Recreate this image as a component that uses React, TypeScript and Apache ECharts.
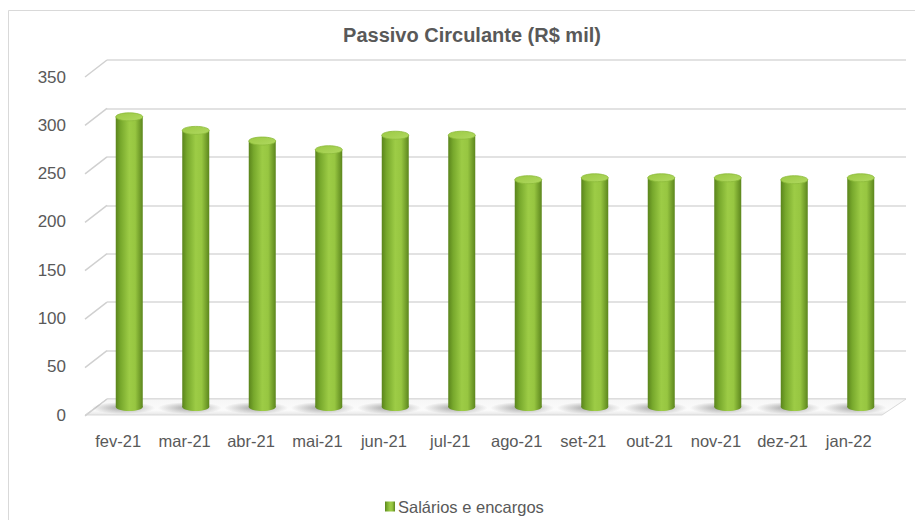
import React, { useEffect, useRef } from "react";
import * as echarts from "echarts";

const categories = ["fev-21", "mar-21", "abr-21", "mai-21", "jun-21", "jul-21", "ago-21", "set-21", "out-21", "nov-21", "dez-21", "jan-22"];
const salarios = [300, 286, 275, 266, 281, 281, 235, 237, 237, 237, 235, 237];
const yTicks = [0, 50, 100, 150, 200, 250, 300, 350];
const seriesName = "Salários e encargos";
const titleText = "Passivo Circulante (R$ mil)";

const FONT = "'Liberation Sans', Arial, sans-serif";
const TXT = "#595959";
const DX = -22;
const DY = 16;

function bodyGradient() {
  return new echarts.graphic.LinearGradient(0, 0, 1, 0, [
    { offset: 0, color: "#5a841c" },
    { offset: 0.18, color: "#77a82c" },
    { offset: 0.5, color: "#9dcc46" },
    { offset: 0.72, color: "#97c641" },
    { offset: 1, color: "#5c861d" },
  ]);
}

export default function App() {
  const ref = useRef<HTMLDivElement>(null);
  useEffect(() => {
    document.body.style.margin = "0";
    const chart = echarts.init(ref.current!, null, { renderer: "svg" });
    const hiddenAxis = {
      show: true,
      axisLine: { show: false },
      axisTick: { show: false },
      axisLabel: { show: false },
      splitLine: { show: false },
    };
    const option: any = {
      animation: false,
      backgroundColor: "#ffffff",
      title: {
        text: titleText,
        left: 467,
        textAlign: "center",
        top: 20,
        textStyle: { fontFamily: FONT, fontSize: 20, fontWeight: "bold", color: TXT },
      },
      legend: {
        data: [{ name: seriesName, icon: "rect" }],
        left: 380,
        bottom: 0,
        itemWidth: 10,
        itemHeight: 10,
        itemGap: 4,
        textStyle: { fontFamily: FONT, fontSize: 16.5, color: TXT, padding: [0, 0, 0, -2] },
      },
      graphic: [
        {
          type: "rect",
          shape: { x: 8.5, y: 10.5, width: 940, height: 540 },
          style: { fill: "none", stroke: "#d9d9d9", lineWidth: 1 },
          silent: true,
        },
      ],
      grid: [
        { left: 107, right: 9, top: 60, bottom: 121 },
        { left: 85, right: 33, top: 77, bottom: 105 },
        { left: 96, right: 21, top: 68.5, bottom: 113 },
      ],
      xAxis: [
        { type: "category", gridIndex: 0, data: categories, ...hiddenAxis },
        {
          type: "category",
          gridIndex: 1,
          data: categories,
          axisLine: { show: false },
          axisTick: { show: false },
          splitLine: { show: false },
          axisLabel: { fontFamily: FONT, fontSize: 16.5, color: TXT, margin: 17, interval: 0 },
        },
        { type: "category", gridIndex: 2, data: categories, ...hiddenAxis },
      ],
      yAxis: [
        {
          type: "value",
          gridIndex: 0,
          min: 0,
          max: 350,
          interval: 50,
          axisLine: { show: false },
          axisTick: { show: false },
          axisLabel: { show: false },
          splitLine: { show: true, lineStyle: { color: "#d9d9d9", width: 1.5 } },
        },
        {
          type: "value",
          gridIndex: 1,
          min: 0,
          max: 350,
          interval: 50,
          axisLine: { show: false },
          axisTick: { show: false },
          splitLine: { show: false },
          axisLabel: { fontFamily: FONT, fontSize: 17, color: TXT, margin: 19 },
        },
        { type: "value", gridIndex: 2, min: 0, max: 350, interval: 50, ...hiddenAxis },
      ],
      series: [
        {
          type: "custom",
          name: "floor",
          xAxisIndex: 0,
          yAxisIndex: 0,
          z: 1,
          silent: true,
          data: [[0, 0]],
          renderItem: (params: any, api: any) => {
            const cs = params.coordSys;
            const y0 = api.coord([0, 0])[1];
            const x0 = cs.x;
            const x1 = cs.x + cs.width;
            return {
              type: "polygon",
              shape: {
                points: [
                  [x0, y0],
                  [x1, y0],
                  [x1 - 24, y0 + DY],
                  [x0 + DX, y0 + DY],
                ],
              },
              style: {
                fill: new echarts.graphic.LinearGradient(0, 0, 0, 1, [
                  { offset: 0, color: "#f6f6f6" },
                  { offset: 0.7, color: "#fbfbfb" },
                  { offset: 1, color: "#e6e6e6" },
                ]),
                stroke: "#d9d9d9",
                lineWidth: 1,
              },
            };
          },
        },
        {
          type: "custom",
          name: "diagonals",
          xAxisIndex: 0,
          yAxisIndex: 0,
          z: 1,
          silent: true,
          data: yTicks.map((v) => [0, v]),
          renderItem: (params: any, api: any) => {
            const cs = params.coordSys;
            const y = api.coord([0, api.value(1)])[1];
            return {
              type: "line",
              shape: { x1: cs.x, y1: y, x2: cs.x + DX, y2: y + DY + 1 },
              style: { stroke: "#d0d0d0", lineWidth: 1.5 },
            };
          },
        },
        {
          type: "custom",
          name: "shadows",
          xAxisIndex: 2,
          yAxisIndex: 2,
          z: 2,
          silent: true,
          data: salarios.map((v, i) => [i, v]),
          renderItem: (params: any, api: any) => {
            const base = api.coord([api.value(0), 0]);
            return {
              type: "ellipse",
              shape: { cx: base[0] - 6, cy: base[1] + 1, rx: 32, ry: 6 },
              style: {
                fill: new echarts.graphic.RadialGradient(0.5, 0.5, 0.5, [
                  { offset: 0, color: "rgba(0,0,0,0.35)" },
                  { offset: 1, color: "rgba(0,0,0,0)" },
                ]),
              },
            };
          },
        },
        {
          type: "custom",
          name: "bases",
          xAxisIndex: 2,
          yAxisIndex: 2,
          z: 3,
          silent: true,
          data: salarios.map((v, i) => [i, v]),
          renderItem: (params: any, api: any) => {
            const base = api.coord([api.value(0), 0]);
            return {
              type: "ellipse",
              shape: { cx: base[0], cy: base[1], rx: 13.5, ry: 4 },
              style: { fill: bodyGradient() },
            };
          },
        },
        {
          type: "bar",
          name: seriesName,
          xAxisIndex: 2,
          yAxisIndex: 2,
          z: 4,
          barWidth: 27,
          data: salarios,
          itemStyle: { color: bodyGradient() },
        },
        {
          type: "custom",
          name: "caps",
          xAxisIndex: 2,
          yAxisIndex: 2,
          z: 5,
          silent: true,
          data: salarios.map((v, i) => [i, v]),
          renderItem: (params: any, api: any) => {
            const top = api.coord([api.value(0), api.value(1)]);
            return {
              type: "ellipse",
              shape: { cx: top[0], cy: top[1], rx: 13.5, ry: 4 },
              style: {
                fill: new echarts.graphic.LinearGradient(0, 0, 1, 1, [
                  { offset: 0, color: "#9cc944" },
                  { offset: 1, color: "#b0d960" },
                ]),
                stroke: "#8cba3a",
                lineWidth: 0.8,
              },
            };
          },
        },
      ],
    };
    chart.setOption(option);
    return () => chart.dispose();
  }, []);
  return <div ref={ref} style={{ width: 915, height: 520 }} />;
}
